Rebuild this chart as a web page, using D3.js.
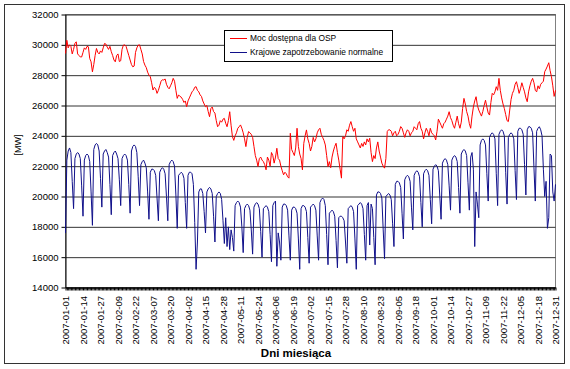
<!DOCTYPE html>
<html>
<head>
<meta charset="utf-8">
<script src="https://cdn.jsdelivr.net/npm/d3@7"></script>
<style>
  body { margin: 0; background: #fff; }
  text { font-family: Arial, "Liberation Sans", sans-serif; }
</style>
</head>
<body>
<svg id="chart" width="570" height="369"></svg>
<script>
const series_names = ["Moc dostępna dla OSP", "Krajowe zapotrzebowanie normalne"];
const y_ticks = [14000, 16000, 18000, 20000, 22000, 24000, 26000, 28000, 30000, 32000];
const tick_labels = [
  "2007-01-01", "2007-01-14", "2007-01-27", "2007-02-09", "2007-02-22", "2007-03-07",
  "2007-03-20", "2007-04-02", "2007-04-15", "2007-04-28", "2007-05-11", "2007-05-24",
  "2007-06-06", "2007-06-19", "2007-07-02", "2007-07-15", "2007-07-28", "2007-08-10",
  "2007-08-23", "2007-09-05", "2007-09-18", "2007-10-01", "2007-10-14", "2007-10-27",
  "2007-11-09", "2007-11-22", "2007-12-05", "2007-12-18", "2007-12-31"
];

// one row = one week (Mon..Sun), MW
const moc_dostepna = [
  29430, 30300, 29800, 30000, 29900, 29400, 29700,
  30100, 30200, 29400, 29300, 29200, 29200, 29500,
  29800, 29700, 29900, 29870, 29100, 28880, 28220,
  28700, 29300, 29760, 29500, 29400, 29600, 29500,
  29800, 30090, 30050, 29850, 29700, 29900, 29550,
  29300, 29000, 28880, 29300, 29400, 28900, 28950,
  29700, 29980, 30000, 29900, 29600, 29300, 29000,
  28700, 28550, 28600, 29500, 29800, 29980, 30000,
  29700, 29400, 28900, 28660, 28500, 28200, 28000,
  27900, 27500, 27020, 27200, 27100, 26800, 27000,
  27300, 27600, 27700, 27680, 27750, 27400, 27200,
  27100, 27300, 27500, 27790, 27600, 27000, 26470,
  26700, 26600, 26550, 26400, 26200, 26300, 25920,
  26300, 26500, 26700, 26900, 27000, 27200, 27240,
  27000, 26900, 26700, 26600, 26300, 26100, 25920,
  26000, 25600, 25260, 25800, 25900, 25600, 25500,
  25000, 24600, 24700, 25000, 24900, 25100, 25150,
  24830, 24600, 25000, 25590, 24700, 23950, 23700,
  24000, 24200, 24500, 24600, 24720, 24500, 24200,
  23800, 23290, 23900, 24280, 24200, 24100, 23900,
  23300, 22700, 22400, 21980, 22500, 22600, 22400,
  22300, 22100, 21760, 22600, 22400, 22000, 22900,
  22700, 22200, 22600, 23180, 22500, 22400, 22000,
  21700, 21430, 21600, 21500, 21300, 21210, 24170,
  23100, 22900, 22700, 23200, 24500, 23300, 22800,
  22500, 21760, 23500, 24000, 24390, 23800, 23500,
  23000, 23300, 23900, 23600, 23800, 24200, 24400,
  24500, 24100, 23900, 23700, 23400, 22700, 21970,
  22300, 21900, 22600, 23000, 23300, 23510, 22900,
  22400, 21800, 21210, 23950, 23800, 24000, 24400,
  24300, 24700, 24940, 24600, 24300, 24500, 23800,
  23600, 23400, 23200, 23500, 23300, 23600, 23400,
  23800, 23600, 23840, 22900, 22300, 22700, 22500,
  23200, 23600, 23000, 22600, 22200, 22000, 21870,
  22500, 24280, 24400, 24390, 24300, 24000, 24200,
  24300, 24000, 24100, 24300, 24610, 24500, 24200,
  23900, 24200, 24400, 24300, 24000, 24200, 24300,
  24600, 24500, 24400, 24800, 24940, 24500, 24300,
  23800, 24200, 24500, 24300, 24000, 24500, 24200,
  24100, 24000, 23730, 24300, 25100, 24900, 24700,
  24500, 24800, 24900, 25100, 25300, 25590, 25200,
  25000, 24700, 24500, 24900, 25300, 24800, 24500,
  24900, 25800, 26470, 26100, 25600, 25300, 24800,
  24500, 25300, 25900, 26300, 26580, 26000, 25700,
  25500, 25300, 25600, 26000, 26350, 25900, 25500,
  25370, 26200, 26800, 26700, 26900, 27240, 27000,
  27790, 27000, 26500, 26100, 25800, 25400, 25000,
  24940, 25700, 26400, 26800, 27000, 27400, 27570,
  27200, 26800, 27100, 27500, 27200, 26900, 26500,
  26250, 26900, 27300, 27600, 27790, 27500, 27000,
  26900, 27300, 27100, 27400, 27500, 27600, 28230,
  28400, 28600, 28820, 28300, 27900, 27300, 26600,
  27000
];

const zapotrzebowanie = [
  17600, 22400, 23000, 23200, 22900, 21000, 19200,
  22500, 22800, 22900, 22800, 22500, 20700, 18700,
  22400, 22700, 22800, 22700, 22300, 20300, 18100,
  23100, 23400, 23500, 23400, 23000, 21200, 19300,
  22800, 23000, 23100, 22900, 22600, 20800, 18800,
  22700, 22900, 23000, 22800, 22500, 21100, 19400,
  22500, 22700, 22800, 22700, 22400, 20800, 18900,
  23000, 23300, 23400, 23300, 22900, 21300, 19400,
  22100, 22300, 22400, 22200, 21900, 20300, 18500,
  21600, 21800, 21800, 21700, 21400, 19900, 18400,
  21600, 21800, 21900, 21800, 21500, 20000, 18400,
  22100, 22300, 22400, 22300, 22000, 20100, 17900,
  21400, 21500, 21600, 21500, 21200, 19600, 17900,
  21400, 21600, 21600, 21500, 20800, 18300, 15200,
  17000, 20300, 20500, 20500, 20200, 19000, 17600,
  20300, 20500, 20600, 20500, 20200, 18700, 17000,
  20000, 20200, 20300, 20200, 19800, 18400, 16900,
  18600, 16700, 18000, 16500, 17800, 17300, 16400,
  19400, 19600, 19700, 19600, 19300, 18000, 16300,
  19200, 19400, 19500, 19400, 19100, 17800, 16200,
  19300, 19500, 19600, 19500, 19200, 17700, 16000,
  19200, 19300, 19400, 19300, 19000, 17500, 15700,
  19400, 19600, 19700, 15400, 17600, 17000, 15800,
  19300, 19500, 19500, 19400, 19100, 17400, 15800,
  19100, 19300, 19300, 19200, 18900, 17200, 15200,
  19200, 19400, 19400, 19300, 19000, 17300, 15600,
  19300, 19400, 19500, 19400, 19100, 17400, 15800,
  19600, 19800, 19900, 19800, 19400, 17500, 15500,
  18900, 19000, 19100, 19000, 18700, 17100, 15300,
  18600, 18700, 18700, 18600, 18400, 17000, 15600,
  19200, 19300, 19400, 19300, 19000, 17200, 15200,
  19400, 19500, 19600, 19500, 19200, 17500, 15800,
  19400, 19600, 16800, 19500, 19200, 17300, 15500,
  20100, 20300, 20300, 20200, 19900, 17800, 15900,
  20000, 20100, 20200, 20100, 19800, 18200, 16700,
  20800, 21000, 21000, 20900, 20600, 18900, 17200,
  21100, 21300, 21400, 21300, 21000, 19300, 17800,
  21400, 21600, 21700, 21600, 21300, 19600, 18000,
  21500, 21700, 21800, 21700, 21400, 19800, 18200,
  21800, 22000, 22100, 22000, 21700, 20100, 18500,
  22200, 22400, 22500, 22400, 22100, 20700, 19100,
  22400, 22600, 22700, 22600, 22300, 20600, 18900,
  22800, 23000, 23100, 23000, 22700, 20900, 19100,
  22600, 22900, 21800, 16700, 20300, 19500, 18600,
  23400, 23700, 23800, 23700, 23400, 21500, 19700,
  23900, 24100, 24200, 24100, 23800, 21500, 19400,
  24100, 24300, 24400, 24300, 24000, 21600, 19500,
  23900, 24100, 24200, 24100, 23800, 21700, 19800,
  24300, 24500, 24500, 24400, 24100, 22100, 20100,
  24400, 24600, 24600, 24500, 24200, 21900, 19700,
  24300, 24500, 24600, 24400, 24000, 21800, 20000,
  21000, 17900, 18600, 22800, 22700, 20300, 19700,
  20800
];

const series_colors = ["#ff0000", "#10108a"];

const plot = {left: 65.5, right: 555.5, top: 14.5, bottom: 287.5};
const days = d3.timeDay.range(new Date(2007, 0, 1), new Date(2008, 0, 1))
  .map(d3.timeFormat("%Y-%m-%d"));
const label_set = new Set(tick_labels);

const x = d3.scalePoint().domain(days).range([plot.left, plot.right]);
const y = d3.scaleLinear().domain([14000, 32000]).range([plot.bottom, plot.top]);

const svg = d3.select("#chart");

// outer chart frame
svg.append("rect")
  .attr("x", 4.5).attr("y", 4.5)
  .attr("width", 560).attr("height", 359)
  .attr("fill", "#fff")
  .attr("stroke", "#333");

// plot area
svg.append("rect")
  .attr("x", plot.left).attr("y", plot.top)
  .attr("width", plot.right - plot.left).attr("height", plot.bottom - plot.top)
  .attr("fill", "#fff")
  .attr("stroke", "#808080");

// horizontal gridlines
const grid = svg.append("g")
  .attr("transform", `translate(${plot.left},0)`)
  .call(d3.axisLeft(y).tickValues(y_ticks).tickSize(-(plot.right - plot.left)).tickFormat(""));
grid.select(".domain").remove();
grid.selectAll("line").attr("stroke", "#333");

// y axis
const y_axis = svg.append("g")
  .attr("transform", `translate(${plot.left},0)`)
  .call(d3.axisLeft(y).tickValues(y_ticks).tickSize(4).tickPadding(3).tickSizeOuter(0)
    .tickFormat(d3.format("d")));
y_axis.attr("font-family", null).attr("font-size", 9.5);
y_axis.selectAll("path, line").attr("stroke", "#000");
y_axis.selectAll("text").attr("fill", "#000");

// x axis, a tick per day, labels every 13th day
const x_axis = svg.append("g")
  .attr("transform", `translate(0,${plot.bottom})`)
  .call(d3.axisBottom(x).tickValues(days).tickSize(3).tickSizeOuter(0)
    .tickFormat(d => label_set.has(d) ? d : ""));
x_axis.attr("font-family", null).attr("font-size", 9.5);
x_axis.selectAll("path, line").attr("stroke", "#000");
x_axis.selectAll("text")
  .attr("fill", "#000")
  .attr("transform", "rotate(-90)")
  .attr("text-anchor", "end")
  .attr("x", -8.5)
  .attr("y", 0)
  .attr("dy", "0.35em");

// series
const line_gen = d3.line()
  .x((d, i) => x(days[i]))
  .y(d => y(d));

[moc_dostepna, zapotrzebowanie].forEach((values, i) => {
  svg.append("path")
    .datum(values)
    .attr("d", line_gen)
    .attr("fill", "none")
    .attr("stroke", series_colors[i])
    .attr("stroke-width", 1);
});

// legend
const legend = svg.append("g");
legend.append("rect")
  .attr("x", 224.5).attr("y", 30.5)
  .attr("width", 168).attr("height", 31)
  .attr("fill", "#fff")
  .attr("stroke", "#000");
series_names.forEach((name, i) => {
  const ly = 38.5 + i * 14;
  legend.append("line")
    .attr("x1", 230).attr("x2", 247)
    .attr("y1", ly).attr("y2", ly)
    .attr("stroke", series_colors[i]);
  legend.append("text")
    .attr("x", 250).attr("y", ly)
    .attr("dy", "0.35em")
    .attr("font-size", 8.4)
    .text(name);
});

// axis titles
svg.append("text")
  .attr("transform", "translate(18,145) rotate(-90)")
  .attr("text-anchor", "middle")
  .attr("dy", "0.35em")
  .attr("font-size", 9)
  .text("[MW]");

svg.append("text")
  .attr("x", 296).attr("y", 357)
  .attr("text-anchor", "middle")
  .attr("font-size", 11.5)
  .attr("font-weight", "bold")
  .text("Dni miesiąca");
</script>
</body>
</html>
